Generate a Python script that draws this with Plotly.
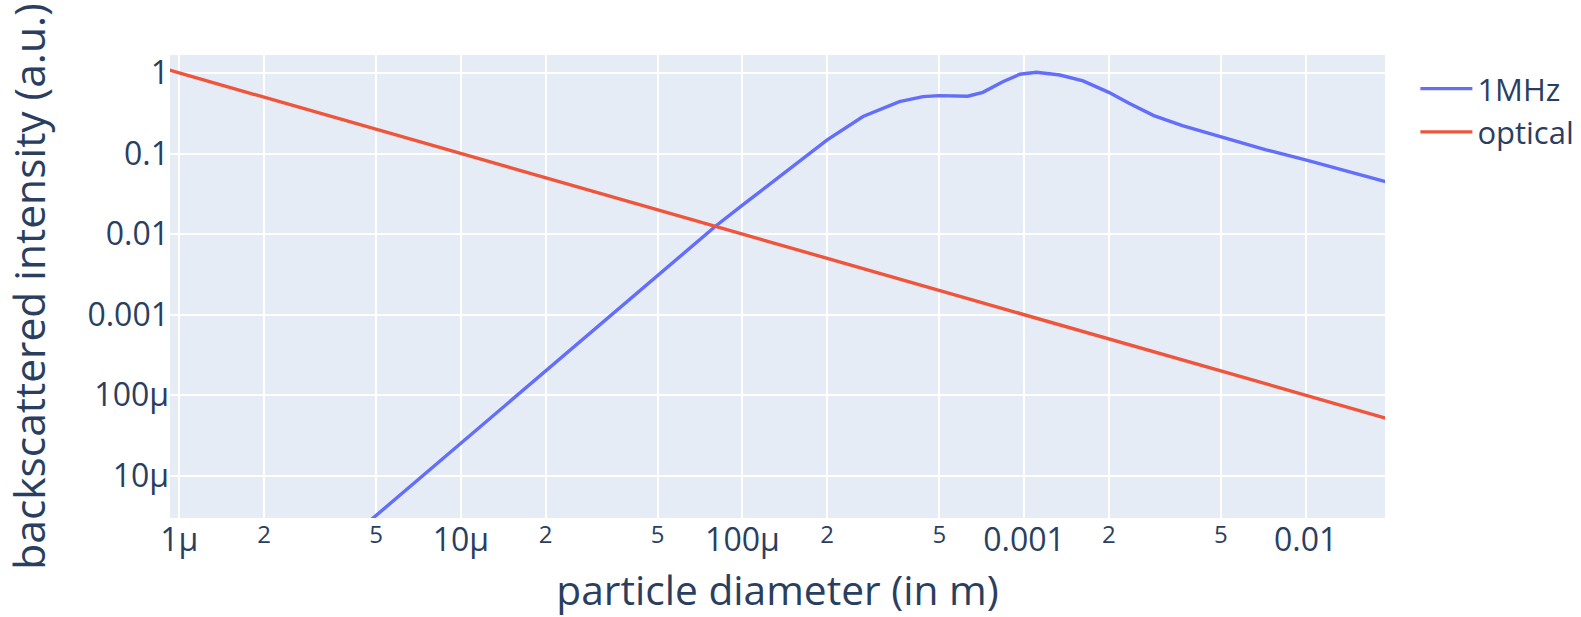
import plotly.graph_objects as go

# particle diameter (m) for the 1MHz acoustic curve
d_1mhz = [2e-6, 5e-6, 1e-5, 2e-5, 5e-5, 8.04e-5, 1e-4, 1.355e-4, 1.734e-4, 2.0e-4,
          2.68e-4, 3.61e-4, 4.38e-4, 5e-4, 6.31e-4, 7.14e-4, 8.41e-4, 9.66e-4,
          1.107e-3, 1.34e-3, 1.62e-3, 2.0e-3, 2.36e-3, 2.89e-3, 3.65e-3,
          4.99e-3, 7.24e-3, 1e-2, 2e-2]
i_1mhz = [2.1e-7, 3.2e-6, 2.51e-5, 2.0e-4, 3.06e-3, 0.0126, 0.0229, 0.0519, 0.101, 0.1476,
          0.288, 0.441, 0.508, 0.524, 0.514, 0.575, 0.780, 0.964,
          1.02, 0.944, 0.796, 0.575, 0.421, 0.296, 0.222,
          0.163, 0.111, 0.0836, 0.0432]

# optical curve
d_opt = [9e-7, 1e-6, 1e-5, 1e-4, 1e-3, 1e-2, 2e-2]
i_opt = [1.111, 1.0, 0.1, 0.01, 0.001, 1e-4, 5e-5]

fig = go.Figure()
fig.add_trace(go.Scatter(x=d_1mhz, y=i_1mhz, mode="lines", name="1MHz",
                         line=dict(color="#636efa", width=3.4)))
fig.add_trace(go.Scatter(x=d_opt, y=i_opt, mode="lines", name="optical",
                         line=dict(color="#EF553B", width=3.4)))

fig.update_layout(
    template="plotly",
    width=1581, height=617,
    margin=dict(l=170, r=196, t=55, b=99, autoexpand=False),
    font=dict(family="Open Sans", size=32, color="#2a3f5f"),
    legend=dict(font=dict(size=31), itemwidth=52, x=1.025, y=0.985),
    xaxis=dict(type="log", range=[-6.033, -1.718], dtick="D2",
               gridwidth=1.7, automargin=False,
               title=dict(text="particle diameter (in m)", font=dict(size=40.7), standoff=32)),
    yaxis=dict(type="log", range=[-5.524, 0.223], dtick=1,
               gridwidth=1.7, automargin=False,
               title=dict(text="backscattered intensity (a.u.)", font=dict(size=42.5), standoff=32)),
)

fig.write_html("out.html")
